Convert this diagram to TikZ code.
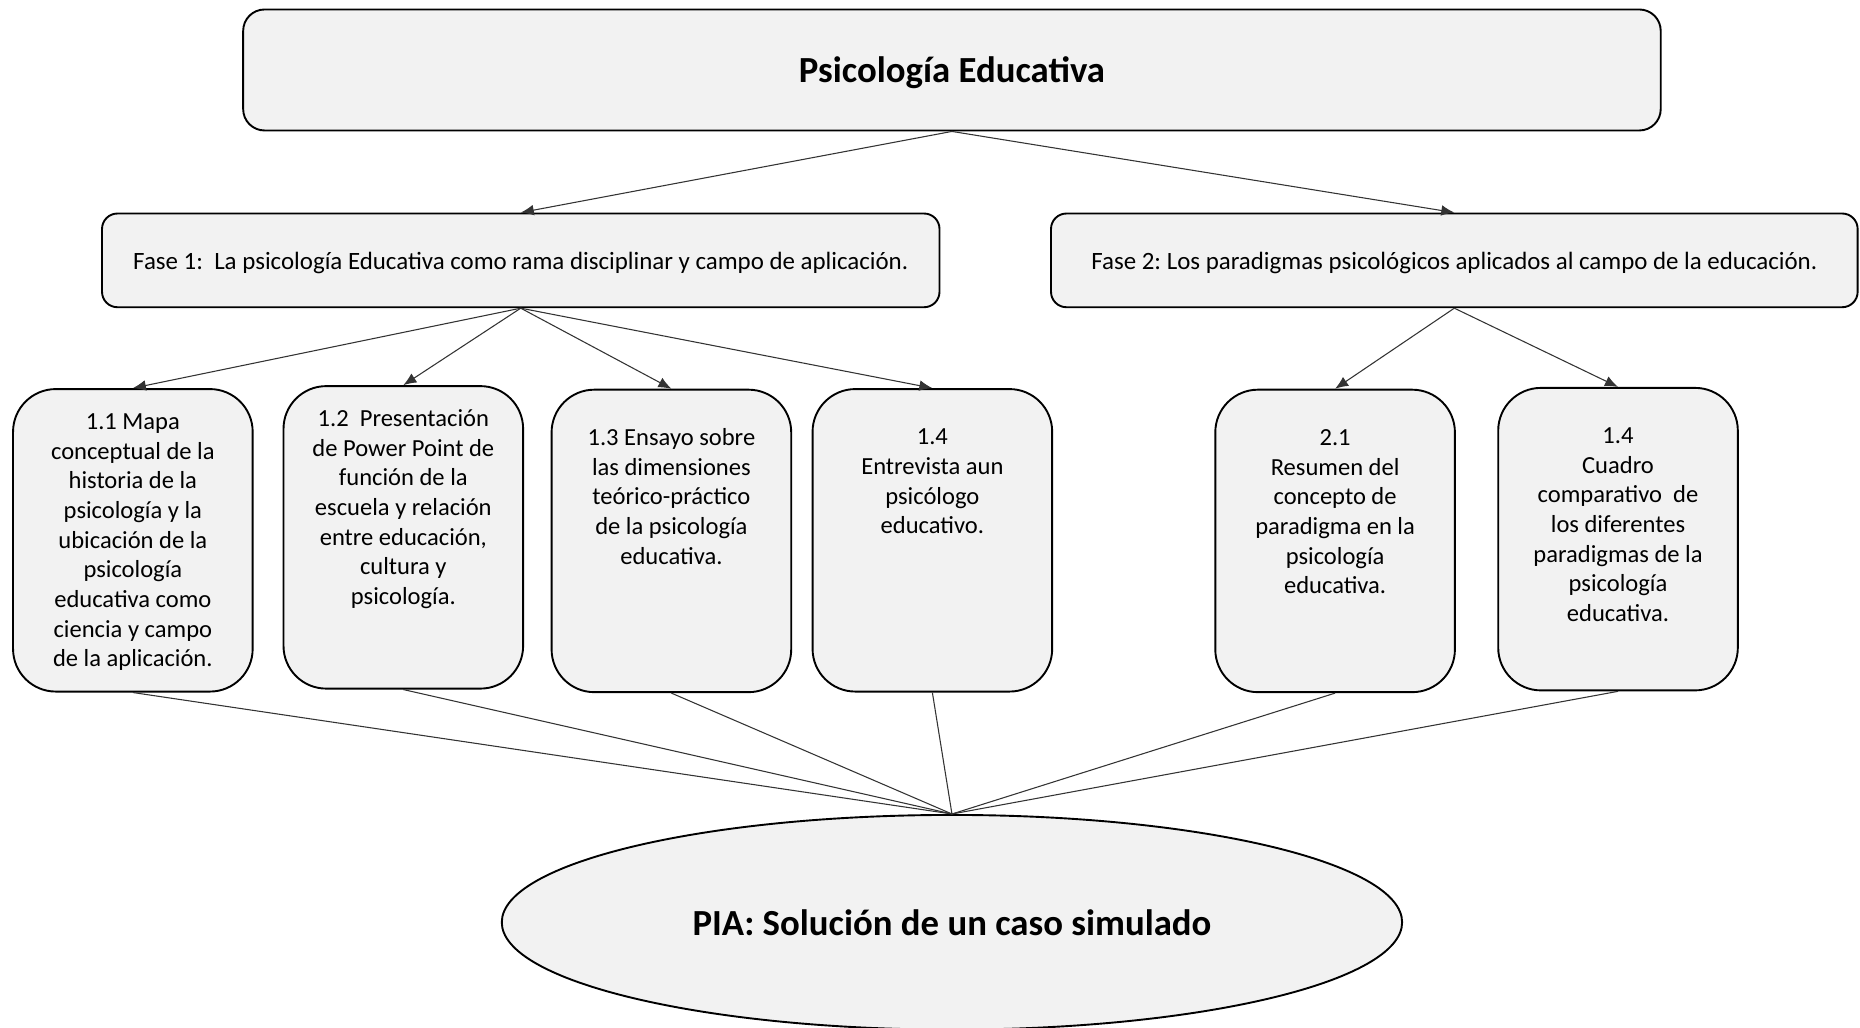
\documentclass[tikz,border=0pt]{standalone}
\usepackage{fontspec}
\setmainfont{Carlito}
\usetikzlibrary{shapes.geometric,arrows.meta}
\frenchspacing
\newcommand{\kidtxt}[2]{\parbox[c][255pt][t]{202pt}{\vspace*{#1pt}\centering\strut #2\par}}
\begin{document}
\begin{tikzpicture}[x=1pt,y=-1pt,
  boxfill/.style={draw=black,line width=1.6pt,fill=black!5},
  topbox/.style={boxfill,rounded corners=18pt,minimum width=1195pt,minimum height=102pt,inner sep=0pt,text depth=0pt,font=\fontsize{31}{37}\selectfont\bfseries},
  fasebox/.style={boxfill,rounded corners=13pt,minimum height=79pt,inner sep=0pt,text depth=0pt,font=\fontsize{21}{25}\selectfont},
  kidbox/.style={boxfill,rounded corners=36pt,inner sep=0pt,font=\fontsize{20.7}{25}\selectfont},
  piabox/.style={boxfill,ellipse,minimum width=759pt,minimum height=181pt,inner sep=0pt,font=\fontsize{31}{37}\selectfont\bfseries},
  arr/.style={draw=black!80,line width=0.9pt,-{Latex[length=11pt,width=9pt]}},
  conn/.style={draw=black!80,line width=0.9pt}
]
\useasboundingbox (0,0) rectangle (1568,866);

\node[topbox] (top) at (802.5,59) {Psicología Educativa};
\node[fasebox,minimum width=706pt] (f1) at (439,219.5) {Fase 1:~ La psicología Educativa como rama disciplinar y campo de aplicación.};
\node[fasebox,minimum width=680pt] (f2) at (1226,219.5) {Fase 2: Los paradigmas psicológicos aplicados al campo de la educación.};

\node[kidbox] (c1) at (112,455.5) {\kidtxt{16.5}{1.1 Mapa\\conceptual de la\\historia de la\\psicología y la\\ubicación de la\\psicología\\educativa como\\ciencia y campo\\de la aplicación.}};
\node[kidbox] (c2) at (340,453) {\kidtxt{16.5}{1.2~ Presentación\\de Power Point de\\función de la\\escuela y relación\\entre educación,\\cultura y\\psicología.}};
\node[kidbox] (c3) at (566,456) {\kidtxt{29.5}{1.3 Ensayo sobre\\las dimensiones\\teórico-práctico\\de la psicología\\educativa.}};
\node[kidbox] (c4) at (786,455.5) {\kidtxt{29.5}{1.4\\Entrevista aun\\psicólogo\\educativo.}};
\node[kidbox] (c5) at (1125.5,456) {\kidtxt{29.5}{2.1\\Resumen del\\concepto de\\paradigma en la\\psicología\\educativa.}};
\node[kidbox] (c6) at (1364,454.5) {\kidtxt{29.5}{1.4\\Cuadro\\comparativo~ de\\los diferentes\\paradigmas de la\\psicología\\educativa.}};

\node[piabox] (pia) at (802.5,777.5) {PIA: Solución de un caso simulado};

\draw[arr] (top.south) -- (f1.north);
\draw[arr] (top.south) -- (f2.north);
\foreach \k in {c1,c2,c3,c4} \draw[arr] (f1.south) -- (\k.north);
\foreach \k in {c5,c6} \draw[arr] (f2.south) -- (\k.north);
\foreach \k in {c1,c2,c3,c4,c5,c6} \draw[conn] (\k.south) -- (pia.north);
\end{tikzpicture}
\end{document}
